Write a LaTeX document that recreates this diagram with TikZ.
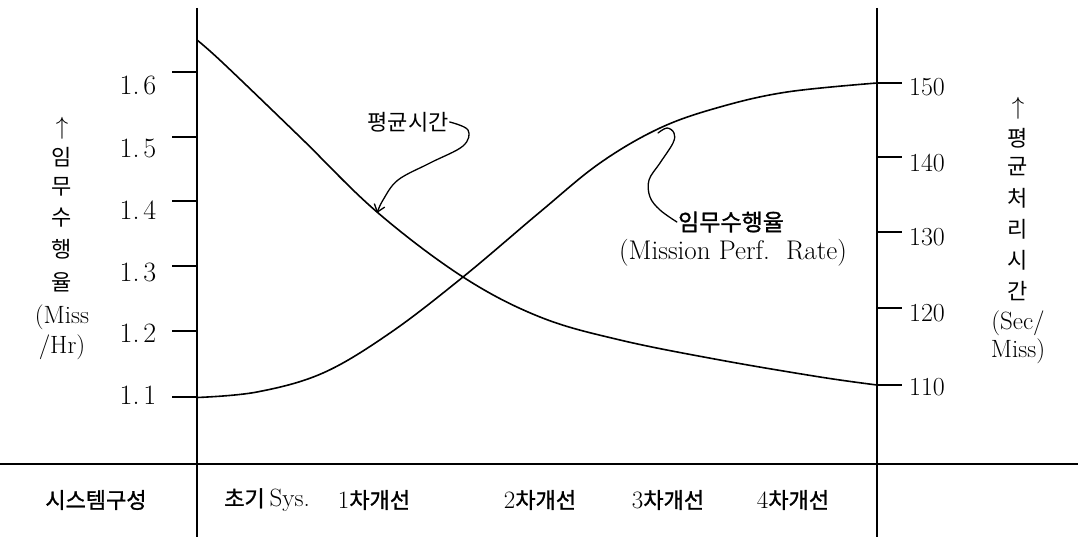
\documentclass[tikz,border=0pt]{standalone}
\usepackage{fontspec}
\newfontfamily\kr{Noto Sans CJK KR}
\newfontfamily\krb[FakeBold=1.2]{Noto Sans CJK KR}
\usetikzlibrary{arrows.meta}
\begin{document}
\begin{tikzpicture}[x=1pt,y=-1pt,
  axis/.style={line width=1.5pt},
  tickline/.style={line width=1.3pt},
  curve/.style={line width=1.6pt, line join=round, line cap=round},
  note/.style={line width=1.3pt, line cap=round},
  numl/.style={font=\fontsize{28}{28}\selectfont, inner sep=0pt},
  numr/.style={font=\fontsize{26}{26}\selectfont, inner sep=0pt},
  vlab/.style={font=\kr\fontsize{22}{22}\selectfont, inner sep=0pt},
  vlat/.style={font=\fontsize{25}{25}\selectfont, inner sep=0pt},
  varr/.style={font=\fontsize{24}{24}\selectfont, inner sep=0pt},
  bot/.style={font=\krb\fontsize{22}{22}\selectfont, inner sep=0pt},
  ann/.style={font=\kr\fontsize{22}{22}\selectfont, inner sep=1pt},
  annb/.style={font=\krb\fontsize{23}{23}\selectfont, inner sep=1pt},
  annl/.style={font=\fontsize{27}{27}\selectfont, inner sep=1pt}]
\newcommand{\bn}[1]{{\rmfamily\fontsize{25}{25}\selectfont #1}}
\useasboundingbox (0,0) rectangle (1078,537);

% axes
\coordinate (lt) at (197,8);  \coordinate (lb) at (197,537);
\coordinate (rt) at (877,8);  \coordinate (rb) at (877,537);
\coordinate (hl) at (0,464);  \coordinate (hr) at (1078,464);
\draw[axis] (lt) -- (lb);
\draw[axis] (rt) -- (rb);
\draw[axis] (hl) -- (hr);

% left ticks and labels
\foreach \y/\ly/\a/\b [count=\i] in {72/85/1/6, 137/148/1/5, 201/210/1/4, 266/272/1/3, 331/333/1/2, 397/395/1/1}{
  \coordinate (lta\i) at (172,\y);
  \coordinate (ltb\i) at (197,\y);
  \draw[tickline] (lta\i) -- (ltb\i);
  \node[numl] (ln\i) at (138,\ly) {\a.\kern4pt\b};
}
% right ticks and labels
\foreach \y/\ly/\t [count=\i] in {83/87/150, 157/163/140, 232/237/130, 308/313/120, 385/387/110}{
  \coordinate (rta\i) at (877,\y);
  \coordinate (rtb\i) at (902,\y);
  \draw[tickline] (rta\i) -- (rtb\i);
  \node[numr] (rn\i) at (927,\ly) {\t};
}

% left vertical label
\node[varr] (la0) at (62,128) {$\uparrow$};
\node[vlab] (la1) at (62,157) {임};
\node[vlab] (la2) at (62,187) {무};
\node[vlab] (la3) at (62,218) {수};
\node[vlab] (la4) at (62,249) {행};
\node[vlab] (la5) at (62,282) {율};
\node[vlat] (la6) at (62,317) {(Miss};
\node[vlat] (la7) at (62,347) {/Hr)};

% right vertical label
\node[varr] (ra0) at (1018,108) {$\uparrow$};
\node[vlab] (ra1) at (1018,138) {평};
\node[vlab] (ra2) at (1018,167) {균};
\node[vlab] (ra3) at (1018,198) {처};
\node[vlab] (ra4) at (1018,229) {리};
\node[vlab] (ra5) at (1018,260) {시};
\node[vlab] (ra6) at (1018,291) {간};
\node[vlat] (ra7) at (1018,323) {(Sec/};
\node[vlat] (ra8) at (1018,351) {Miss)};

% curves
\draw[curve] plot[smooth, tension=0.6] coordinates {(197,40) (223,63) (300,137) (377,212) (463,277) (540,317) (620,340) (720,360) (820,377) (877,385)};
\draw[curve] plot[smooth, tension=0.6] coordinates {(197,397.5) (257,392) (323,373) (390,333) (463,277) (540,212) (600,163) (660,128) (720,107) (787,92) (877,83)};

% annotations
\node[ann] (avg) at (408,122) {평균시간};
\coordinate (avgtip) at (377,213);
\draw[note, -{Straight Barb[length=7pt,width=11pt]}] plot[smooth, tension=0.6] coordinates {(avg.east) (468,130) (463,146) (430,163) (398,180) (383,200) (avgtip)};

\node[annb] (mpr) at (731,222) {임무수행율};
\node[annl] (mpre) at (733,253) {(Mission Perf.\ \ Rate)};
\coordinate (mprtip) at (658,133);
\draw[note] plot[smooth, tension=0.6] coordinates {(mpr.west) (660,210) (650,197) (649,180) (660,163) (673,143) (674,133) (667,128) (mprtip)};

% bottom row
\node[bot] (b0) at (96,500) {시스템구성};
\node[bot] (b1) at (267,500) {초기 \bn{Sys.}};
\node[bot] (b2) at (374,500) {\bn{1}차개선};
\node[bot] (b3) at (540,500) {\bn{2}차개선};
\node[bot] (b4) at (668,500) {\bn{3}차개선};
\node[bot] (b5) at (793,500) {\bn{4}차개선};
\end{tikzpicture}
\end{document}
